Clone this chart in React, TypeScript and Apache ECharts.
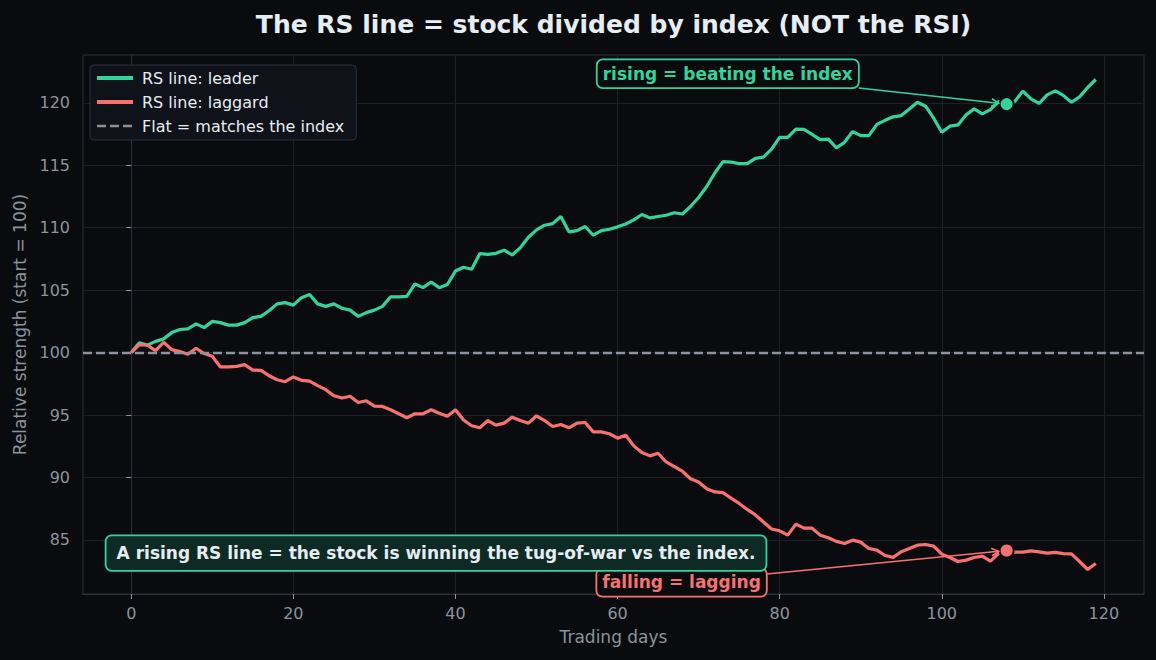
import React, { useEffect, useRef } from "react";
import * as echarts from "echarts";

// RS line values (start = 100) for the two example stocks, one value per trading day.
const leader = [
  100.0, 100.78, 100.6, 100.9, 101.1, 101.6, 101.85, 101.9, 102.3, 102.0,
  102.5, 102.4, 102.2, 102.2, 102.4, 102.8, 102.9, 103.35, 103.9, 104.0,
  103.8, 104.4, 104.65, 103.9, 103.7, 103.9, 103.55, 103.4, 102.9, 103.2,
  103.4, 103.7, 104.47, 104.47, 104.5, 105.5, 105.2, 105.65, 105.2, 105.45,
  106.53, 106.83, 106.67, 107.92, 107.87, 107.95, 108.2, 107.82, 108.4, 109.24,
  109.83, 110.2, 110.33, 110.9, 109.67, 109.77, 110.1, 109.4, 109.77, 109.88,
  110.07, 110.3, 110.63, 111.06, 110.79, 110.9, 111.0, 111.2, 111.1, 111.7,
  112.42, 113.3, 114.38, 115.29, 115.26, 115.13, 115.13, 115.56, 115.66, 116.3,
  117.24, 117.24, 117.9, 117.88, 117.48, 117.05, 117.1, 116.4, 116.84, 117.7,
  117.38, 117.38, 118.28, 118.6, 118.88, 118.98, 119.5, 120.05, 119.73, 118.77,
  117.64, 118.13, 118.23, 119.04, 119.52, 119.12, 119.46, 120.1, 119.9, 120.1,
  120.94, 120.32, 119.95, 120.64, 120.96, 120.59, 120.05, 120.48, 121.23, 121.87,
];

const laggard = [
  100.0, 100.64, 100.6, 100.15, 100.83, 100.24, 100.08, 99.87, 100.35, 99.92,
  99.7, 98.85, 98.85, 98.9, 99.04, 98.6, 98.58, 98.15, 97.83, 97.67,
  98.05, 97.78, 97.72, 97.35, 97.03, 96.55, 96.36, 96.5, 96.0, 96.14,
  95.72, 95.69, 95.42, 95.1, 94.78, 95.1, 95.1, 95.42, 95.15, 94.9,
  95.42, 94.6, 94.14, 93.98, 94.56, 94.19, 94.35, 94.83, 94.56, 94.35,
  94.94, 94.56, 94.08, 94.24, 93.98, 94.35, 94.4, 93.65, 93.65, 93.5,
  93.15, 93.39, 92.53, 92.0, 91.73, 91.94, 91.24, 90.87, 90.5, 89.9,
  89.64, 89.1, 88.84, 88.78, 88.35, 87.92, 87.44, 87.0, 86.44, 85.87,
  85.73, 85.38, 86.26, 85.94, 85.94, 85.38, 85.17, 84.88, 84.71, 84.98,
  84.82, 84.31, 84.18, 83.75, 83.6, 84.05, 84.31, 84.58, 84.63, 84.5,
  83.86, 83.59, 83.27, 83.38, 83.59, 83.7, 83.3, 83.9, 84.15, 84.02,
  84.02, 84.12, 84.04, 83.94, 84.0, 83.9, 83.88, 83.27, 82.63, 83.11,
];

const xTicks = [0, 20, 40, 60, 80, 100, 120];
const yTicks = [85, 90, 95, 100, 105, 110, 115, 120];
const baseline = 100;
const highlightDay = 108;

const seriesNames = ["RS line: leader", "RS line: laggard", "Flat = matches the index"];
const titleText = "The RS line = stock divided by index (NOT the RSI)";
const risingNote = "rising = beating the index";
const fallingNote = "falling = lagging";
const summaryNote = "A rising RS line = the stock is winning the tug-of-war vs the index.";

const BG = "#0a0b0f";
const GREEN = "#34d399";
const RED = "#f87171";
const MUTED = "#8b949e";
const TEXT = "#e6edf3";
const SPINE = "#2a323c";
const GRID = "#1b212b";
const FONT = "DejaVu Sans";
const DASH = [9, 4];

const GRID_BOX = { left: 83, right: 12, top: 55, bottom: 66 };

const toPairs = (vals: number[]) => vals.map((v, i) => [i, v]);

function paddedRange(lo: number, hi: number) {
  const pad = (hi - lo) * 0.05;
  return [lo - pad, hi + pad];
}

function measure(text: string, font: string) {
  const ctx = document.createElement("canvas").getContext("2d")!;
  ctx.font = font;
  return ctx.measureText(text).width;
}

function clipToBox(cx: number, cy: number, hw: number, hh: number, tx: number, ty: number) {
  const dx = tx - cx;
  const dy = ty - cy;
  const t = Math.min(hw / Math.max(Math.abs(dx), 1e-9), hh / Math.max(Math.abs(dy), 1e-9));
  return [cx + dx * t, cy + dy * t];
}

function arrow(from: number[], to: number[], shrink: number, color: string) {
  const dx = to[0] - from[0];
  const dy = to[1] - from[1];
  const len = Math.hypot(dx, dy);
  const ux = dx / len;
  const uy = dy / len;
  const tip = [to[0] - ux * shrink, to[1] - uy * shrink];
  const headLen = 8;
  const a = (28 * Math.PI) / 180;
  const back = [-ux, -uy];
  const rot = (ang: number) => [
    tip[0] + headLen * (back[0] * Math.cos(ang) - back[1] * Math.sin(ang)),
    tip[1] + headLen * (back[0] * Math.sin(ang) + back[1] * Math.cos(ang)),
  ];
  return [
    {
      type: "line",
      shape: { x1: from[0], y1: from[1], x2: tip[0], y2: tip[1] },
      style: { stroke: color, lineWidth: 1.6 },
      silent: true,
      z: 20,
    },
    {
      type: "polyline",
      shape: { points: [rot(a), tip, rot(-a)] },
      style: { stroke: color, lineWidth: 1.6, fill: null },
      silent: true,
      z: 20,
    },
  ];
}

function noteBox(
  cx: number,
  cy: number,
  text: string,
  font: string,
  padX: number,
  height: number,
  color: string,
  fill: string,
  stroke: string,
  z: number
) {
  const w = measure(text, font) + padX * 2;
  return {
    width: w,
    height,
    elements: [
      {
        type: "rect",
        shape: { x: cx - w / 2, y: cy - height / 2, width: w, height, r: 6 },
        style: { fill, stroke, lineWidth: 1.8 },
        silent: true,
        z,
      },
      {
        type: "text",
        x: cx,
        y: cy,
        style: { text, fill: color, font, align: "center", verticalAlign: "middle" },
        silent: true,
        z: z + 1,
      },
    ],
  };
}

export default function App() {
  const ref = useRef<HTMLDivElement>(null);

  useEffect(() => {
    if (!ref.current) return;
    const chart = echarts.init(ref.current, null, { renderer: "svg" });

    const [xMin, xMax] = paddedRange(0, leader.length - 1);
    const all = leader.concat(laggard);
    const [yMin, yMax] = paddedRange(Math.min(...all), Math.max(...all));

    const axisCommon = {
      axisLine: { show: true, lineStyle: { color: SPINE, width: 1 } },
      axisTick: { show: true, length: 5, lineStyle: { color: MUTED, width: 1 } },
      splitLine: { show: true, lineStyle: { color: GRID, width: 1 } },
      nameTextStyle: { color: MUTED, fontSize: 17, fontFamily: FONT },
    };

    chart.setOption({
      animation: false,
      backgroundColor: BG,
      textStyle: { fontFamily: FONT },
      grid: {
        ...GRID_BOX,
        show: true,
        backgroundColor: BG,
        borderColor: SPINE,
        borderWidth: 1,
      },
      legend: {
        data: [
          { name: seriesNames[0], lineStyle: { width: 4 } },
          { name: seriesNames[1], lineStyle: { width: 4 } },
          { name: seriesNames[2], lineStyle: { width: 2.6, type: DASH } },
        ],
        orient: "vertical",
        left: 90,
        top: 65,
        padding: [5, 12, 6, 5],
        itemWidth: 36,
        itemHeight: 14,
        itemGap: 8,
        itemStyle: { opacity: 0 },
        backgroundColor: "#0f1319",
        borderColor: SPINE,
        borderWidth: 1,
        borderRadius: 4,
        textStyle: { color: TEXT, fontSize: 16, fontFamily: FONT, padding: [0, 0, 0, 4] },
      },
      xAxis: {
        type: "value",
        min: xMin,
        max: xMax,
        name: "Trading days",
        nameLocation: "middle",
        nameGap: 34,
        ...axisCommon,
        axisTick: { ...axisCommon.axisTick, customValues: xTicks },
        axisLabel: { customValues: xTicks, color: MUTED, fontSize: 16, fontFamily: FONT, margin: 11 },
      },
      yAxis: {
        type: "value",
        min: yMin,
        max: yMax,
        name: "Relative strength (start = 100)",
        nameLocation: "middle",
        nameGap: 52,
        ...axisCommon,
        axisTick: { ...axisCommon.axisTick, customValues: yTicks },
        axisLabel: { customValues: yTicks, color: MUTED, fontSize: 16, fontFamily: FONT, margin: 13 },
      },
      series: [
        {
          name: seriesNames[0],
          type: "line",
          data: toPairs(leader),
          showSymbol: false,
          symbol: "none",
          lineStyle: { color: GREEN, width: 3.2 },
          itemStyle: { color: GREEN },
          z: 3,
        },
        {
          name: seriesNames[1],
          type: "line",
          data: toPairs(laggard),
          showSymbol: false,
          symbol: "none",
          lineStyle: { color: RED, width: 3.2 },
          itemStyle: { color: RED },
          z: 3,
        },
        {
          name: seriesNames[2],
          type: "line",
          data: [],
          symbol: "none",
          lineStyle: { color: MUTED, width: 2.4, type: DASH },
          itemStyle: { color: MUTED },
          z: 2,
          markLine: {
            silent: true,
            symbol: ["none", "none"],
            label: { show: false },
            lineStyle: { color: MUTED, width: 2.4, type: DASH },
            data: [{ yAxis: baseline }],
          },
        },
        {
          name: "leader mark",
          type: "scatter",
          data: [[highlightDay, leader[highlightDay]]],
          symbolSize: 14,
          itemStyle: { color: GREEN, borderColor: BG, borderWidth: 2, opacity: 1 },
          z: 5,
        },
        {
          name: "laggard mark",
          type: "scatter",
          data: [[highlightDay, laggard[highlightDay]]],
          symbolSize: 14,
          itemStyle: { color: RED, borderColor: BG, borderWidth: 2, opacity: 1 },
          z: 5,
        },
      ],
    });

    // Annotations placed in data space (text anchors) and axes fraction (summary box).
    const px = (x: number, y: number) => chart.convertToPixel({ gridIndex: 0 }, [x, y]) as number[];
    const noteFont = `bold 17px "${FONT}"`;

    const plotW = 1156 - GRID_BOX.left - GRID_BOX.right;
    const plotH = 660 - GRID_BOX.top - GRID_BOX.bottom;
    const plotCx = GRID_BOX.left + plotW / 2;

    const risingAt = px(73.6, 122.33);
    const fallingAt = px(67.9, 81.6);
    const risingTarget = px(highlightDay, leader[highlightDay]);
    const fallingTarget = px(highlightDay, laggard[highlightDay]);

    const rising = noteBox(risingAt[0], risingAt[1], risingNote, noteFont, 6, 28.6, GREEN, BG, GREEN, 30);
    const falling = noteBox(fallingAt[0], fallingAt[1], fallingNote, noteFont, 6, 28.6, RED, BG, RED, 30);

    const risingStart = clipToBox(risingAt[0], risingAt[1], rising.width / 2, rising.height / 2, risingTarget[0], risingTarget[1]);
    const fallingStart = clipToBox(fallingAt[0], fallingAt[1], falling.width / 2, falling.height / 2, fallingTarget[0], fallingTarget[1]);

    const summaryW = measure(summaryNote, noteFont) + 22;
    const summaryCx = GRID_BOX.left + plotW * 0.0213 + summaryW / 2;
    const summaryCy = GRID_BOX.top + plotH * 0.924;
    const summary = noteBox(summaryCx, summaryCy, summaryNote, noteFont, 11, 35.5, TEXT, "#0e2a24", GREEN, 40);

    chart.setOption({
      graphic: [
        {
          type: "text",
          x: plotCx,
          y: 24,
          style: {
            text: titleText,
            fill: TEXT,
            font: `bold 25px "${FONT}"`,
            align: "center",
            verticalAlign: "middle",
          },
          silent: true,
        },
        ...arrow(risingStart, risingTarget, 8, GREEN),
        ...rising.elements,
        ...arrow(fallingStart, fallingTarget, 8, RED),
        ...falling.elements,
        ...summary.elements,
      ],
    });

    return () => chart.dispose();
  }, []);

  return (
    <div
      ref={ref}
      style={{ position: "fixed", left: 0, top: 0, width: 1156, height: 660, background: BG }}
    />
  );
}
